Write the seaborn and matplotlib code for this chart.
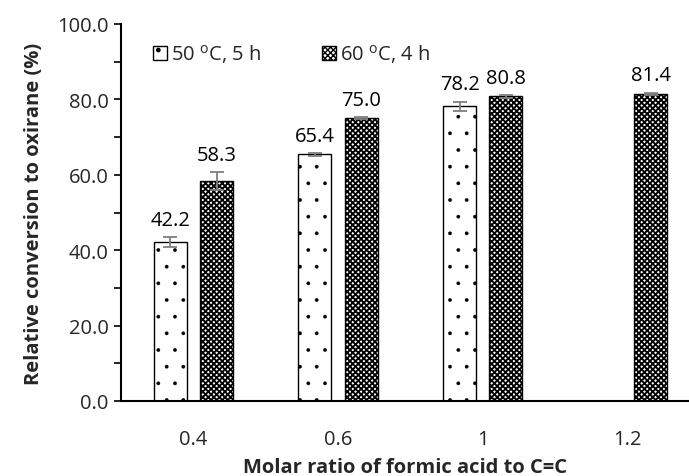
import numpy as np
import pandas as pd
import matplotlib
matplotlib.use("Agg")
import matplotlib.pyplot as plt
import seaborn as sns
from matplotlib.ticker import MultipleLocator, FormatStrFormatter
from matplotlib.patches import Patch

# Conversion data (mean values and standard deviations)
ratios = ["0.4", "0.6", "1", "1.2"]
conditions = ["50 $^{\\mathregular{o}}$C, 5 h", "60 $^{\\mathregular{o}}$C, 4 h"]
conv_50 = [42.2, 65.4, 78.2, np.nan]
conv_60 = [58.3, 75.0, 80.8, 81.4]
err_50 = [1.3, 0.3, 1.2, np.nan]
err_60 = [2.4, 0.3, 0.3, 0.3]

sns.set_theme(style="white")
plt.rcParams["font.family"] = ["Open Sans", "DejaVu Sans"]

FS = 14.5
hatches = {conditions[0]: ".", conditions[1]: "xxxxxx"}
hatch_lw = {conditions[0]: 0.25, conditions[1]: 1.35}

df = pd.DataFrame({
    "ratio": ratios * 2,
    "condition": [conditions[0]] * 4 + [conditions[1]] * 4,
    "conversion": conv_50 + conv_60,
    "err": err_50 + err_60,
})

fig = plt.figure(figsize=(6.89, 4.77), dpi=100)
ax = fig.add_axes([121 / 689, 75 / 477, 1 - 121 / 689, 377 / 477])

sns.barplot(data=df, x="ratio", y="conversion", hue="condition",
            order=ratios, hue_order=conditions, width=0.64, gap=0.29,
            errorbar=None, palette=["white", "white"], edgecolor="black",
            linewidth=1.0, legend=False, ax=ax)


def style_patch(p, cond):
    p.set_hatch(hatches[cond])
    if hasattr(p, "set_hatch_linewidth"):
        p.set_hatch_linewidth(hatch_lw[cond])


for cont, cond in zip(ax.containers, conditions):
    sub = df[df["condition"] == cond].set_index("ratio").loc[ratios]
    for bar, val, err in zip(cont, sub["conversion"], sub["err"]):
        style_patch(bar, cond)
        if np.isnan(val):
            continue
        xc = bar.get_x() + bar.get_width() / 2
        ax.errorbar(xc, val, yerr=err, color="#7f7f7f", capsize=5,
                    elinewidth=1.3, capthick=1.3, zorder=5)
        ax.annotate(f"{val:.1f}", (xc, val + err), xytext=(0, 9),
                    textcoords="offset points", ha="center", va="baseline",
                    fontsize=FS, color="black")

ax.set_ylim(0, 100)
ax.set_xlim(-0.5, (689 - 121) / 144.7 - 0.5)
ax.yaxis.set_major_locator(MultipleLocator(20))
ax.yaxis.set_minor_locator(MultipleLocator(10))
ax.yaxis.set_major_formatter(FormatStrFormatter("%.1f"))
ax.tick_params(axis="y", which="both", direction="out", left=True,
               length=5, width=1.2, color="black", labelsize=FS, pad=4)
ax.tick_params(axis="x", bottom=False, labelsize=FS, pad=14)

for side in ("top", "right"):
    ax.spines[side].set_visible(False)
for side in ("left", "bottom"):
    ax.spines[side].set_color("black")
    ax.spines[side].set_linewidth(1.5)

ax.set_xlabel("Molar ratio of formic acid to C=C", fontsize=FS,
              fontweight="bold", labelpad=6)
ax.set_ylabel("Relative conversion to oxirane (%)", fontsize=FS,
              fontweight="bold", labelpad=9)

handles = []
for c in conditions:
    h = Patch(facecolor="white", edgecolor="black", label=c)
    style_patch(h, c)
    handles.append(h)
ax.legend(handles=handles, loc="upper left", ncol=2, frameon=False,
          fontsize=FS, handlelength=0.7, handleheight=0.7,
          handletextpad=0.2, columnspacing=3.0,
          bbox_to_anchor=(0.025, 1.0))

fig.savefig("out.png", dpi=100)
